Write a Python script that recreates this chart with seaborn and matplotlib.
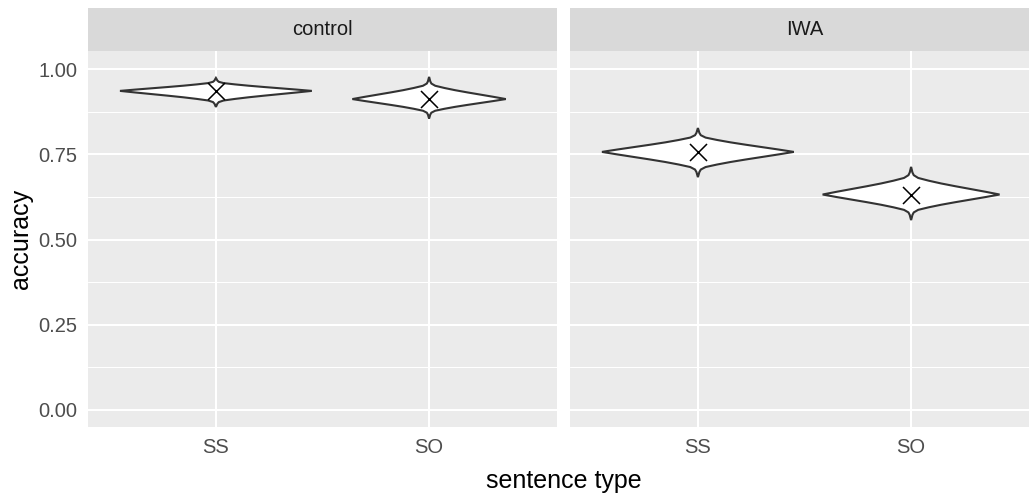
import numpy as np
import pandas as pd
import matplotlib
matplotlib.use("Agg")
import matplotlib.pyplot as plt
import seaborn as sns

# ---------------- data ----------------
panels = ["control", "IWA"]
sentence_types = ["SS", "SO"]

control_mean = [0.936, 0.912]
iwa_mean = [0.757, 0.632]

control_lower = [0.889, 0.855]
control_upper = [0.974, 0.977]
iwa_lower = [0.683, 0.557]
iwa_upper = [0.827, 0.713]

control_halfwidth = [0.45, 0.36]
iwa_halfwidth = [0.45, 0.415]

# relative violin profile (fraction of half-extent -> fraction of max width)
profile_u = [0.0, 0.1, 0.2, 0.3, 0.4, 0.5, 0.6, 0.7, 0.8, 0.9, 1.0]
profile_w = [1.0, 0.84, 0.67, 0.50, 0.34, 0.20, 0.08, 0.03, 0.015, 0.008, 0.0]

y_ticks = [0.0, 0.25, 0.50, 0.75, 1.00]
y_ticklabels = ["0.00", "0.25", "0.50", "0.75", "1.00"]
y_minor = [0.125, 0.375, 0.625, 0.875]

means = pd.DataFrame({
    "panel": ["control", "control", "IWA", "IWA"],
    "sentence": sentence_types * 2,
    "accuracy": control_mean + iwa_mean,
    "lower": control_lower + iwa_lower,
    "upper": control_upper + iwa_upper,
    "halfwidth": control_halfwidth + iwa_halfwidth,
})
means["pos"] = means["sentence"].map({s: i for i, s in enumerate(sentence_types)})

# ---------------- style ----------------
sns.set_theme(style="darkgrid", rc={
    "axes.facecolor": "#EBEBEB",
    "grid.color": "white",
    "figure.facecolor": "white",
})
plt.rcParams["font.family"] = ["Liberation Sans", "DejaVu Sans"]

W, H = 1029, 497
fig = plt.figure(figsize=(W / 100, H / 100), dpi=100)

panel_left = [88, 570]
panel_w = 469
panel_top, panel_bot = 51, 427
strip_top = 8

u = np.array(profile_u)
w = np.array(profile_w)

for k, pname in enumerate(panels):
    x0 = panel_left[k] / W
    ax = fig.add_axes([x0, (H - panel_bot) / H, panel_w / W, (panel_bot - panel_top) / H])
    sub = means[means["panel"] == pname]

    # violins
    for _, r in sub.iterrows():
        c = r["accuracy"]
        y_up = c + u * (r["upper"] - c)
        y_dn = c - u * (c - r["lower"])
        half = w * r["halfwidth"]
        xs = np.concatenate([r["pos"] + half[::-1], r["pos"] + half[1:],
                             r["pos"] - half[::-1][1:], r["pos"] - half[1:]])
        ys = np.concatenate([y_dn[::-1], y_up[1:], y_up[::-1][1:], y_dn[1:]])
        ax.fill(xs, ys, facecolor="white", edgecolor="#333333", linewidth=1.5, zorder=2,
                joinstyle="miter")

    # mean markers
    sns.scatterplot(data=sub, x="pos", y="accuracy", marker="x", s=150, color="black",
                    linewidth=1.1, ax=ax, zorder=3, legend=False)

    ax.set_xlim(-0.6, 1.6)
    ax.set_ylim(-0.05, 1.053)
    ax.set_xticks(range(len(sentence_types)))
    ax.set_xticklabels(sentence_types)
    ax.set_yticks(y_ticks)
    ax.set_yticks(y_minor, minor=True)
    if k == 0:
        ax.set_yticklabels(y_ticklabels)
    else:
        ax.set_yticklabels([])
    ax.grid(which="major", color="white", linewidth=1.5)
    ax.grid(which="minor", axis="y", color="white", linewidth=0.75)
    ax.set_xlabel("")
    ax.set_ylabel("")
    for s in ax.spines.values():
        s.set_visible(False)
    ax.tick_params(axis="both", which="major", length=4.3, width=1.1, color="#333333",
                   labelsize=14.5, labelcolor="#4D4D4D", pad=3.5)
    if k == 1:
        ax.tick_params(axis="y", which="major", length=0)
    ax.tick_params(axis="y", which="minor", length=0)

    # strip
    sax = fig.add_axes([x0, (H - panel_top) / H, panel_w / W, (panel_top - strip_top) / H])
    sax.set_facecolor("#D9D9D9")
    sax.set_xticks([])
    sax.set_yticks([])
    sax.grid(False)
    for s in sax.spines.values():
        s.set_visible(False)
    sax.text(0.5, 0.5, pname, ha="center", va="center", fontsize=14.5, color="#1A1A1A",
             transform=sax.transAxes)

fig.text((88 + 1039) / 2 / W, 1 - 481 / H, "sentence type", ha="center", va="center",
         fontsize=18, color="black")
fig.text(21 / W, 1 - 239 / H, "accuracy", ha="center", va="center", rotation=90,
         fontsize=18, color="black")

fig.savefig("out.png", dpi=100)
